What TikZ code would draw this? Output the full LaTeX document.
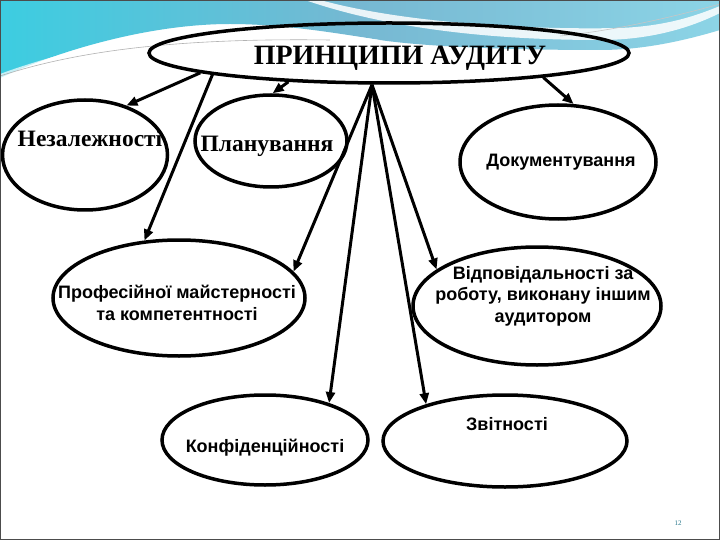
\documentclass[tikz,border=0pt]{standalone}
\usepackage{fontspec}
\setmainfont{Liberation Serif}
\setsansfont{Liberation Sans}
\usetikzlibrary{shapes.geometric,arrows.meta}
\definecolor{bandcyan}{RGB}{60,205,225}
\definecolor{bandblue}{RGB}{118,184,210}
\definecolor{bandlight}{RGB}{140,212,230}
\definecolor{pagenum}{RGB}{40,120,140}
\begin{document}
\begin{tikzpicture}[x=1pt,y=-1pt,
	>={Triangle[length=11pt,width=9pt]},
	oval/.style={ellipse,draw,line width=3.5pt,inner sep=0pt},
	link/.style={->,line width=3pt},
	serifbold/.style={font=\bfseries\fontsize{23.5}{26}\selectfont,inner sep=0pt},
	sansbold/.style={font=\sffamily\bfseries\fontsize{18}{21.5}\selectfont,align=center,inner sep=0pt}]
	\useasboundingbox (0,0) rectangle (720,540);
	%slide background
	\fill[white] (0,0) rectangle (720,540);
	\shade[left color=bandcyan,right color=bandlight,middle color=bandblue] (0,0) -- (720,0) -- (720,30)
		.. controls (680,42) and (640,50) .. (600,50) .. controls (500,50) and (420,46) .. (380,40)
		.. controls (330,32) and (280,24) .. (230,24) .. controls (150,24) and (60,50) .. (0,78) -- cycle;
	\fill[white,opacity=0.85] (320,0) .. controls (400,22) and (520,30) .. (620,28) .. controls (670,26) and (700,14) .. (720,6)
		-- (720,13) .. controls (690,28) and (650,40) .. (600,40) .. controls (480,40) and (380,26) .. (305,0) -- cycle;
	\fill[white,opacity=0.7] (0,74) .. controls (70,48) and (160,30) .. (260,30) .. controls (300,30) and (340,34) .. (380,40)
		-- (380,44) .. controls (320,38) and (260,36) .. (200,40) .. controls (120,46) and (60,62) .. (0,80) -- cycle;
	\draw[gray!60,line width=0.6pt] (0,76) .. controls (80,50) and (180,38) .. (330,40);
	\draw[gray!45,line width=0.6pt] (560,36) .. controls (620,30) and (680,15) .. (720,4);
	%principles
	\node[oval,minimum width=480pt,minimum height=60pt] (title) at (389,53) {};
	\node[font=\bfseries\fontsize{28}{30}\selectfont,inner sep=0pt] (title-t) at (400,58) {ПРИНЦИПИ АУДИТУ};
	\node[oval,minimum width=165pt,minimum height=110pt] (nez) at (85,155) {};
	\node[serifbold,anchor=base] (nez-t) at (90,147) {Незалежності};
	\node[oval,minimum width=152pt,minimum height=92pt] (plan) at (271,141) {};
	\node[serifbold,anchor=base] (plan-t) at (267,152) {Планування};
	\node[oval,minimum width=196pt,minimum height=114pt] (dok) at (558,162) {};
	\node[sansbold,anchor=base] (dok-t) at (561,167) {Документування};
	\node[oval,minimum width=252pt,minimum height=116pt] (prof) at (179,298) {};
	\node[sansbold] (prof-t) at (177,303) {Професійної майстерності\\та компетентності};
	\node[oval,minimum width=248pt,minimum height=118pt] (vidp) at (537,306) {};
	\node[sansbold] (vidp-t) at (543,296) {Відповідальності за\\роботу, виконану іншим\\аудитором};
	\node[oval,minimum width=206pt,minimum height=90pt] (konf) at (265,440) {};
	\node[sansbold,anchor=base] (konf-t) at (265,452) {Конфіденційності};
	\node[oval,minimum width=244pt,minimum height=92pt] (zvit) at (505,441) {};
	\node[sansbold,anchor=base] (zvit-t) at (507,430) {Звітності};
	%arrows
	\draw[link] (title.186) -- (nez.50);
	\draw[link] (title.187) -- (prof.121);
	\draw[link] (title.196) -- (plan.88);
	\coordinate (fan) at ([xshift=-17pt]title.south);
	\foreach \n/\a in {prof/13,konf/30,zvit/155,vidp/160}
	\draw[link] (fan) -- (\n.\a);
	\draw[link] (title.351) -- (dok.75);
	\node[font=\fontsize{7}{8}\selectfont,text=pagenum,inner sep=0pt] (pg) at (678,523) {12};
	\draw[black!70,line width=1.5pt] (0,0) rectangle (720,540);
\end{tikzpicture}
\end{document}
